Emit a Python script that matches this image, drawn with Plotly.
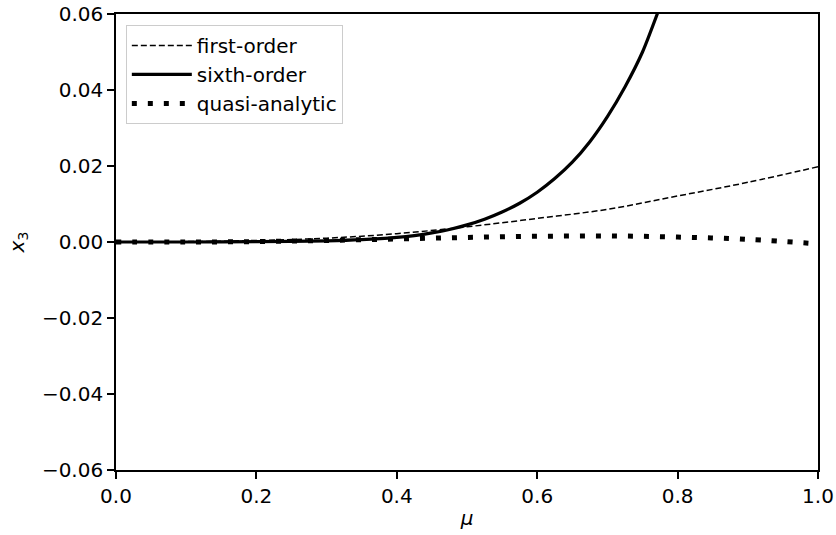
import plotly.graph_objects as go

# ---- data ----
mu_first = [0, 0.1, 0.2, 0.3, 0.4, 0.5, 0.6, 0.7, 0.8, 0.9, 1.0]
x3_first = [0, 0.0001, 0.0004, 0.0010, 0.0022, 0.0040, 0.0062, 0.0086, 0.0121, 0.0157, 0.0198]

mu_sixth = [0, 0.1, 0.2, 0.3, 0.35, 0.4, 0.425, 0.45, 0.475, 0.5, 0.525, 0.55, 0.575,
            0.6, 0.625, 0.65, 0.675, 0.7, 0.725, 0.75, 0.775, 0.8]
x3_sixth = [0, 0.0000, 0.0001, 0.0003, 0.0006, 0.0012, 0.0017, 0.0024, 0.0033, 0.0045,
            0.0060, 0.0079, 0.0102, 0.0131, 0.0167, 0.0210, 0.0264, 0.0330, 0.0408,
            0.0500, 0.0620, 0.0750]

mu_quasi = [0, 0.1, 0.2, 0.3, 0.4, 0.5, 0.6, 0.7, 0.8, 0.9, 1.0]
x3_quasi = [0, 0.0000, 0.0001, 0.0004, 0.0008, 0.0012, 0.0015, 0.0016, 0.0013, 0.0007, -0.0005]

x_ticks = [0.0, 0.2, 0.4, 0.6, 0.8, 1.0]
x_ticktext = ["0.0", "0.2", "0.4", "0.6", "0.8", "1.0"]
y_ticks = [-0.06, -0.04, -0.02, 0.0, 0.02, 0.04, 0.06]
y_ticktext = ["\u22120.06", "\u22120.04", "\u22120.02", "0.00", "0.02", "0.04", "0.06"]

FONT = "DejaVu Sans"

fig = go.Figure()
fig.add_trace(go.Scatter(x=mu_first, y=x3_first, mode="lines", name="first-order",
                         line=dict(color="black", width=1.5, dash="6px,3px", shape="spline")))
fig.add_trace(go.Scatter(x=mu_sixth, y=x3_sixth, mode="lines", name="sixth-order",
                         line=dict(color="black", width=3.2, shape="spline", smoothing=0.6)))
fig.add_trace(go.Scatter(x=mu_quasi, y=x3_quasi, mode="lines", name="quasi-analytic",
                         line=dict(color="black", width=5, dash="5px,11px", shape="spline")))

axis_common = dict(
    showline=True, linecolor="black", linewidth=1.6, mirror=True,
    ticks="outside", ticklen=7, tickwidth=1.6, tickcolor="black",
    showgrid=False, zeroline=False, automargin=False,
    tickfont=dict(family=FONT, size=20, color="black"),
)

fig.update_xaxes(range=[0, 1], tickvals=x_ticks, ticktext=x_ticktext,
                 title=dict(text="<i>μ</i>", font=dict(family=FONT, size=20, color="black"),
                            standoff=4),
                 **axis_common)
fig.update_yaxes(range=[-0.06, 0.06], tickvals=y_ticks, ticktext=y_ticktext,
                 title=dict(text="<i>x</i><sub>3</sub>", font=dict(family=FONT, size=20, color="black"),
                            standoff=12),
                 **axis_common)

fig.update_layout(
    width=836, height=535,
    margin=dict(l=116, r=18, t=14, b=65),
    paper_bgcolor="white", plot_bgcolor="white",
    font=dict(family=FONT, size=20, color="black"),
    showlegend=True,
    legend=dict(x=0.014, y=0.976, xanchor="left", yanchor="top",
                bgcolor="rgba(255,255,255,0.9)", bordercolor="#cccccc", borderwidth=1,
                font=dict(family=FONT, size=20, color="black"),
                itemwidth=60, tracegroupgap=0),
)

fig.write_html("out.html",
               config={"displayModeBar": False},
               post_script="document.body.style.margin='0px';document.body.style.overflow='hidden';")
